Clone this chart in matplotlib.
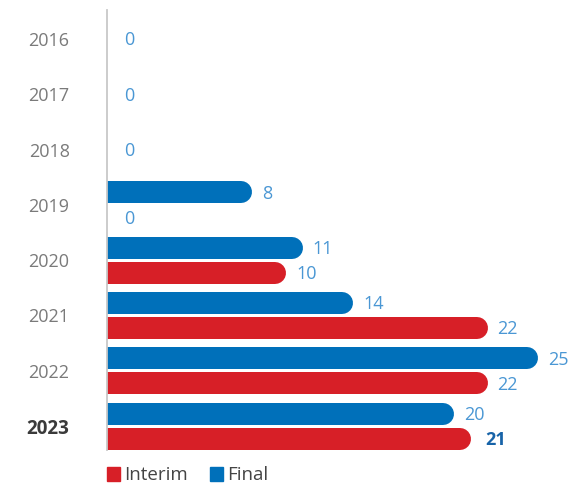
import matplotlib
matplotlib.use("Agg")
import matplotlib.pyplot as plt
from matplotlib.patches import Rectangle

# Data
years = ["2016", "2017", "2018", "2019", "2020", "2021", "2022", "2023"]
final = [0, 0, 0, 8, 11, 14, 25, 20]
interim = [None, None, None, 0, 10, 22, 22, 21]

BLUE = "#0070BA"
RED = "#D71F27"
LABEL_BLUE = "#4A97D4"
BOLD_BLUE = "#1763A8"
YEAR_GREY = "#7A7A7A"

FONT = "Open Sans"
DPI = 100
W, H = 570, 487

fig = plt.figure(figsize=(W / DPI, H / DPI), dpi=DPI)
ax_left, ax_right, ax_top, ax_bot = 107, 570, 10, 450
ax = fig.add_axes([ax_left / W, 1 - ax_bot / H, (ax_right - ax_left) / W,
                   (ax_bot - ax_top) / H])

px_per_unit = 16.8
ax.set_xlim(0, (ax_right - ax_left) / px_per_unit)
group_px = 55.3
first_center_px = 39
ax.set_ylim((ax_bot - first_center_px) / group_px, (ax_top - first_center_px) / group_px)

bar_px = 22
lw_pt = bar_px * 72 / DPI
cap_px = bar_px / 2
off = 12.5 / group_px


def draw_bar(y, v, color):
    if v is None or v <= 0:
        return
    ax.plot([0, v], [y, y], color=color, linewidth=lw_pt,
            solid_capstyle="round", clip_on=True, zorder=2)


def draw_label(y, v, bold=False):
    end_px = (cap_px if v > 0 else 0) + (10 if v > 0 else 17)
    if bold:
        end_px += 4
    ax.annotate(str(v), xy=(v, y), xytext=(end_px * 72 / DPI, -1),
                textcoords="offset points", ha="left", va="center",
                fontsize=13, family=FONT,
                color=BOLD_BLUE if bold else LABEL_BLUE,
                fontweight="bold" if bold else "normal")


for i, yr in enumerate(years):
    f, it = final[i], interim[i]
    if it is None:
        draw_label(i, f)
        continue
    draw_bar(i - off, f, BLUE)
    draw_bar(i + off, it, RED)
    draw_label(i - off, f)
    draw_label(i + off, it, bold=(yr == "2023"))

# Axes styling
for s in ["top", "right", "bottom"]:
    ax.spines[s].set_visible(False)
ax.spines["left"].set_color("#C8C8C8")
ax.spines["left"].set_linewidth(1.3)
ax.spines["left"].set_zorder(3)
ax.set_xticks([])
ax.set_yticks(range(len(years)))
ax.set_yticklabels(years)
ax.tick_params(axis="y", length=0, pad=27)
for lbl in ax.get_yticklabels():
    lbl.set_family(FONT)
    lbl.set_fontsize(13)
    if lbl.get_text() == "2023":
        lbl.set_color("#3A3A3A")
        lbl.set_fontweight("bold")
        lbl.set_fontsize(13.5)
    else:
        lbl.set_color(YEAR_GREY)

# Legend
legend_items = [("Interim", RED, 107), ("Final", BLUE, 210)]
for name, color, x0 in legend_items:
    fig.patches.append(Rectangle((x0 / W, 1 - 481 / H), 13 / W, 14 / H,
                                 transform=fig.transFigure, color=color))
    fig.text((x0 + 17) / W, 1 - 475 / H, name, ha="left", va="center",
             fontsize=13.5, family=FONT, color="#444444")

fig.savefig("out.png", dpi=DPI)
